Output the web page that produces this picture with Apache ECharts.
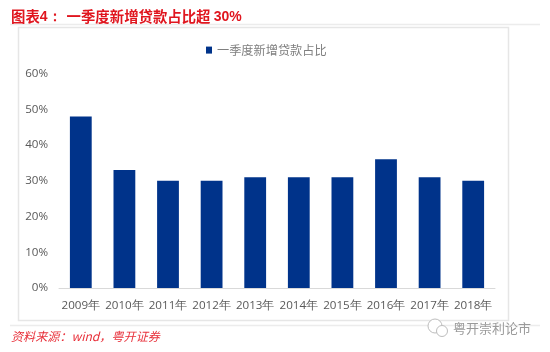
<!DOCTYPE html>
<html>
<head>
<meta charset="utf-8">
<style>
  html, body { margin: 0; padding: 0; background: #fff; }
  #chart { width: 550px; height: 352px; }
</style>
<script src="https://cdn.jsdelivr.net/npm/echarts@6/dist/echarts.min.js"></script>
</head>
<body>
<div id="chart"></div>
<script>
const years = ['2009年', '2010年', '2011年', '2012年', '2013年', '2014年', '2015年', '2016年', '2017年', '2018年']
const shares = [48, 33, 30, 30, 31, 31, 31, 36, 31, 30]
const seriesName = '一季度新增贷款占比'

const cjk = '"Noto Sans CJK SC", sans-serif'
const latin = '"Open Sans", "Liberation Sans", sans-serif'

const chart = echarts.init(document.getElementById('chart'))
chart.setOption({
  animation: false,
  backgroundColor: '#fff',
  title: [
    {
      left: 6, top: 3,
      text: '{a|图表}{b|4：}{c|}{a|一季度新增贷款占比超 }{b|30%}',
      textStyle: {
        rich: {
          a: { color: '#e0161f', fontSize: 14.4, fontFamily: cjk },
          b: { color: '#e0161f', fontSize: 14, fontWeight: 'bold', fontFamily: '"Liberation Sans"' },
          c: { width: 5 }
        }
      }
    },
    {
      left: 6, top: 325,
      text: '资料来源：wind，粤开证券',
      textStyle: { color: '#e8303a', fontSize: 12.1, fontStyle: 'italic', fontWeight: 'normal', fontFamily: cjk }
    },
    {
      left: 448, top: 317,
      text: '粤开崇利论市',
      textStyle: { color: '#9a9a9a', fontSize: 13, fontWeight: 'normal', fontFamily: cjk }
    }
  ],
  legend: {
    top: 39, left: 201,
    data: [seriesName],
    icon: 'rect',
    itemWidth: 6, itemHeight: 7, itemGap: 4,
    textStyle: { color: '#7f7f7f', fontSize: 12.2, fontFamily: cjk }
  },
  grid: { left: 59, right: 55, top: 73.5, bottom: 64 },
  xAxis: {
    type: 'category',
    data: years,
    axisTick: { show: false },
    axisLine: { lineStyle: { color: '#d9d9d9', width: 1 } },
    axisLabel: { color: '#595959', fontSize: 11.6, margin: 12, interval: 0, fontFamily: latin }
  },
  yAxis: {
    type: 'value',
    min: 0, max: 60, interval: 10,
    splitLine: { show: false },
    axisLine: { show: false },
    axisTick: { show: false },
    axisLabel: { color: '#595959', fontSize: 11.6, margin: 11, formatter: '{value}%', fontFamily: latin }
  },
  series: [{
    name: seriesName,
    type: 'bar',
    data: shares,
    barWidth: '50%',
    itemStyle: { color: '#00338a' }
  }],
  graphic: [
    { type: 'line', silent: true, shape: { x1: 10, y1: 24.5, x2: 540, y2: 24.5 }, style: { stroke: '#ececec', lineWidth: 1.5 } },
    { type: 'rect', silent: true, shape: { x: 18.5, y: 27.5, width: 490, height: 293 }, style: { fill: 'none', stroke: '#e6e6e6', lineWidth: 1.5 } },
    { type: 'line', silent: true, shape: { x1: 10, y1: 325.5, x2: 540, y2: 325.5 }, style: { stroke: '#ececec', lineWidth: 1.5 } },
    // wechat mark next to the watermark
    { type: 'circle', silent: true, shape: { cx: 435, cy: 326, r: 7 }, style: { fill: '#fff', stroke: '#bdbdbd', lineWidth: 1 } },
    { type: 'circle', silent: true, shape: { cx: 442, cy: 331, r: 5.5 }, style: { fill: '#fff', stroke: '#bdbdbd', lineWidth: 1 } }
  ]
})
</script>
</body>
</html>
